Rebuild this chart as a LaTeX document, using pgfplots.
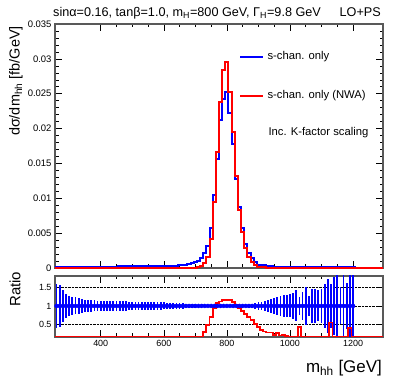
\documentclass[border=0pt]{standalone}
\usepackage{fontspec}
\setmainfont{Liberation Sans}
\usepackage{pgfplots}
\usepackage{pgfplotstable}
\pgfplotsset{compat=1.18}

% histograms: left bin edge, s-chan. only, s-chan. only (NWA)
\pgfplotstableread{
lo    blue     red
255   0.00010  0
305   0.00013  0
355   0.00017  0
405   0.00020  0
455   0.00023  0
505   0.00025  0
555   0.00028  0
605   0.00035  0
645   0.00045  0
675   0.00060  0
685   0.00070  0
695   0.00082  0.00005
705   0.00100  0.00015
715   0.00140  0.00035
725   0.00210  0.00070
735   0.00310  0.00155
745   0.00570  0.00410
755   0.01050  0.00950
765   0.01570  0.01660
775   0.02120  0.02380
785   0.02430  0.02840
795   0.02530  0.02950
805   0.02220  0.02520
815   0.01780  0.01950
825   0.01270  0.01320
835   0.00880  0.00830
845   0.00580  0.00520
855   0.00340  0.00290
865   0.00210  0.00160
875   0.00140  0.00090
885   0.00080  0.00045
895   0.00050  0.00020
905   0.00040  0.00010
925   0.00030  0.00005
945   0.00020  0.00003
1005  0.00012  0.00001
1105  0.00008  0
1205  0        0
1295  0        0
}\hist

% ratio NWA / full, left bin edge
\pgfplotstableread{
lo    r
255   0
725   0.30
735   0.49
745   0.71
755   0.95
765   1.07
775   1.12
785   1.16
795   1.17
805   1.15
815   1.10
825   1.04
835   0.95
845   0.87
855   0.79
865   0.70
875   0.62
885   0.52
895   0.42
905   0.36
915   0.31
925   0.28
935   0.28
945   0.22
955   0.26
965   0.20
975   0.22
985   0.18
995   0
1025  0.42
1035  0
1125  0.55
1135  0
1185  0.40
1195  0
1295  0
}\ratio

% stat. uncertainty of the reference, bin centre
\pgfplotstableread{
x     c  e
260   1  0.60
270   1  0.56
280   1  0.43
290   1  0.33
300   1  0.28
310   1  0.25
320   1  0.23
330   1  0.21
340   1  0.19
350   1  0.17
360   1  0.16
370   1  0.155
380   1  0.15
390   1  0.145
400   1  0.14
410   1  0.14
420   1  0.135
430   1  0.135
440   1  0.13
450   1  0.13
460   1  0.13
470   1  0.125
480   1  0.125
490   1  0.12
500   1  0.12
510   1  0.12
520   1  0.115
530   1  0.115
540   1  0.11
550   1  0.11
560   1  0.11
570   1  0.105
580   1  0.10
590   1  0.10
600   1  0.095
610   1  0.09
620   1  0.09
630   1  0.085
640   1  0.08
650   1  0.075
660   1  0.07
670   1  0.065
680   1  0.06
690   1  0.055
700   1  0.05
710   1  0.045
720   1  0.04
730   1  0.03
740   1  0.025
750   1  0.02
760   1  0.015
770   1  0.012
780   1  0.01
790   1  0.01
800   1  0.01
810   1  0.01
820   1  0.012
830   1  0.015
840   1  0.02
850   1  0.03
860   1  0.035
870   1  0.045
880   1  0.06
890   1  0.08
900   1  0.10
910   1  0.12
920   1  0.14
930   1  0.17
940   1  0.19
950   1  0.22
960   1  0.25
970   1  0.27
980   1  0.29
990   1  0.29
1000  1  0.31
1010  1  0.34
1020  1  0.42
1030  1  0.25
1040  1  0.38
1050  1  0.51
1060  1  0.26
1070  1  0.46
1080  1  0.46
1090  1  0.42
1100  1  0.46
1110  1  0.60
1120  1  0.74
1130  1  0.60
1140  1  0.78
1150  1  0.88
1160  1  0.50
1170  1  0.95
1180  1  0.62
1190  1  0.95
1200  1  0.95
}\errs

\pgfplotsset{
  hhpanel/.style={
    scale only axis, width=328bp, anchor=south west,
    xmin=255, xmax=1295,
    axis line style={draw=black!65, line width=1.1bp},
    tick align=inside,
    tick style={black, line width=0.5bp},
    major tick length=7bp, minor tick length=3.5bp,
    xtick={400,600,800,1000,1200}, minor x tick num=3,
    /pgf/number format/assume math mode=true,
    /pgf/number format/1000 sep={},
  }
}

\begin{document}
\begin{tikzpicture}
\path[use as bounding box] (0,0) rectangle (399bp,383bp);

\begin{axis}[hhpanel, at={(55bp,115bp)}, height=244bp,
  ymin=0, ymax=0.035,
  ytick={0,0.005,0.01,0.015,0.02,0.025,0.03,0.035},
  minor y tick num=4,
  xticklabels={},
  scaled y ticks=false,
  yticklabel style={/pgf/number format/fixed, /pgf/number format/precision=3,
    font=\fontsize{9.5}{10}\selectfont},
  clip=false]
  \addplot[blue, line width=2bp, const plot mark left] table[x=lo, y=blue] {\hist};
  \addplot[red, line width=2bp, const plot mark left] table[x=lo, y=red] {\hist};
\end{axis}

\begin{axis}[hhpanel, at={(55bp,46bp)}, height=61bp,
  ymin=0.16, ymax=1.81,
  ytick={0.5,1,1.5}, yticklabels={0.5,1,1.5},
  ymajorgrids, major grid style={black, densely dotted, line width=0.5bp},
  xticklabel style={font=\fontsize{9}{10}\selectfont},
  yticklabel style={font=\fontsize{9}{10}\selectfont}]
  \addplot[blue, only marks, mark=none,
    error bars/.cd, y dir=both, y explicit, error mark=none,
    error bar style={blue, line width=1.7bp}]
    table[x=x, y=c, y error=e] {\errs};
  \addplot[blue, line width=1.8bp] coordinates {(255,1) (1205,1)};
  \addplot[red, line width=1.8bp, const plot mark left,
    y filter/.expression={y<0.16 ? 0.16 : y}] table[x=lo, y=r] {\ratio};
\end{axis}

% title line
\node[inner sep=0, anchor=base west, font=\fontsize{12.7}{14}\selectfont]
  at (53bp,366.3bp) {sinα=0.16, tanβ=1.0, m\textsubscript{H}=800 GeV, Γ\textsubscript{H}=9.8 GeV};
\node[inner sep=0, anchor=base east, font=\fontsize{12.7}{14}\selectfont]
  at (381bp,366.3bp) {LO+PS};

% legend
\draw[blue, line width=2bp] (240bp,326.3bp) -- (263bp,326.3bp);
\node[inner sep=0, anchor=west, font=\fontsize{11.3}{13}\selectfont] at (267.3bp,326.3bp) {s-chan. only};
\draw[red, line width=2bp] (240bp,287bp) -- (263bp,287bp);
\node[inner sep=0, anchor=west, font=\fontsize{11.3}{13}\selectfont] at (267.3bp,287bp) {s-chan. only (NWA)};
\node[inner sep=0, anchor=west, font=\fontsize{11.3}{13}\selectfont] at (268.3bp,250.3bp) {Inc. K-factor scaling};

% axis titles
\node[inner sep=0, rotate=90, anchor=east, font=\fontsize{14.5}{16}\selectfont]
  at (16bp,357bp) {dσ/dm\textsubscript{hh} [fb/GeV]};
\node[inner sep=0, rotate=90, anchor=east, font=\fontsize{15}{17}\selectfont]
  at (15bp,111.3bp) {Ratio};
\node[inner sep=0, anchor=east, font=\fontsize{17}{19}\selectfont]
  at (382bp,15bp) {m\textsubscript{hh} [GeV]};
\end{tikzpicture}
\end{document}
